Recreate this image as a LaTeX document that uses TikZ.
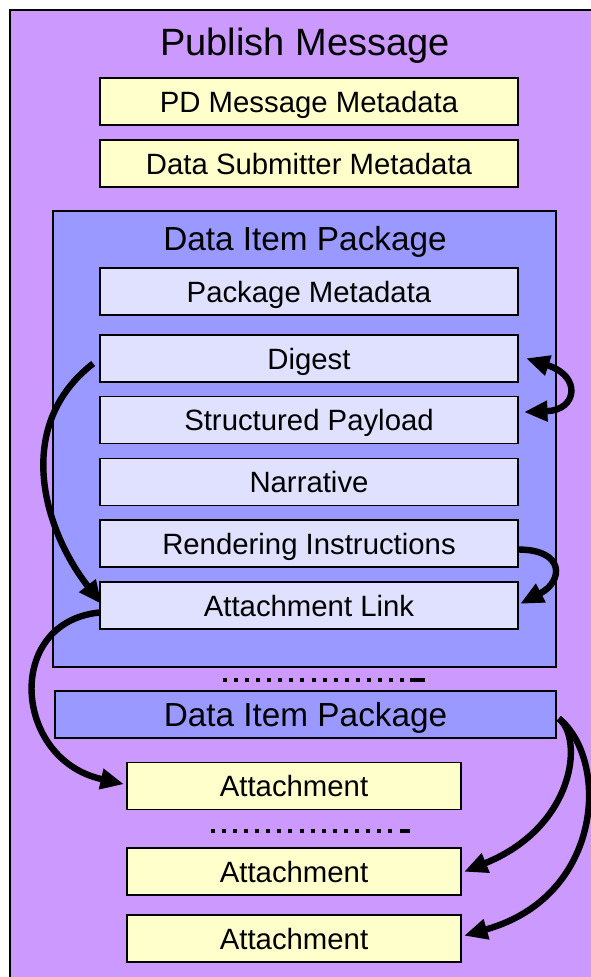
\documentclass[tikz,border=0pt]{standalone}
\usepackage{fontspec}
\setmainfont{Liberation Sans}
\usetikzlibrary{arrows.meta,calc}
\definecolor{msgpurple}{HTML}{CC99FF}
\definecolor{pkgblue}{HTML}{9999FF}
\definecolor{itemlav}{HTML}{E0E0FF}
\definecolor{metayellow}{HTML}{FFFFCC}
\tikzset{
  box/.style={draw=black, line width=1.2pt, minimum height=35.25pt, inner sep=0pt,
              text height=15.8pt, text depth=0pt,
              font=\fontsize{22}{26}\selectfont},
  metabox/.style={box, fill=metayellow, minimum width=313.5pt},
  itembox/.style={box, fill=itemlav, minimum width=313.5pt},
  attbox/.style={box, fill=metayellow, minimum width=250.5pt},
  pkgbox/.style={draw=black, line width=1.2pt, fill=pkgblue, inner sep=0pt},
  link/.style={line width=4.8pt},
  gap/.style={line width=3pt, dash pattern=on 3pt off 5.3pt},
  gapend/.style={line width=3.4pt}
}
\begin{document}
\begin{tikzpicture}[x=0.75pt, y=-0.75pt,
  >={Triangle[fill=black, length=17pt, width=16pt, line width=1pt]}]
\useasboundingbox (0,0) rectangle (591,977);
\clip (0,0) rectangle (591,977);

% outer message frame
\draw[fill=msgpurple, line width=1.5pt] (10,10) rectangle (660,1040);
\node[font=\fontsize{28.5}{32}\selectfont, text height=20.4pt, text depth=0pt]
  (title) at (305,42) {Publish Message};

% message metadata
\node[metabox] (pdmeta) at (309,101.5) {PD Message Metadata};
\node[metabox] (submeta) at (309,163.5) {Data Submitter Metadata};

% first data item package
\node[pkgbox, minimum width=377.25pt, minimum height=342pt] (pkg) at (304.5,439) {};
\node[font=\fontsize{25}{30}\selectfont, text height=17.9pt, text depth=0pt]
  (pkgtitle) at (305,239) {Data Item Package};
\node[itembox] (pkgmeta) at (309,291.5) {Package Metadata};
\node[itembox] (digest) at (309,358.5) {Digest};
\node[itembox] (payload) at (309,420) {Structured Payload};
\node[itembox] (narr) at (309,482) {Narrative};
\node[itembox] (render) at (309,543.5) {Rendering Instructions};
\node[itembox] (attlink) at (309,605.5) {Attachment Link};

% ellipsis between packages
\draw[gap] (223,680) -- (408,680);
\draw[gapend] (410,680) -- (425,680);

% second data item package
\node[pkgbox, minimum width=375.75pt, minimum height=35.25pt,
      text height=17.9pt, text depth=0pt,
      font=\fontsize{25}{30}\selectfont] (pkg2) at (305.5,714.5) {Data Item Package};

% attachments
\node[attbox] (att1) at (294,786) {Attachment};
\draw[gap] (211,831) -- (398,831);
\draw[gapend] (400,831) -- (410,831);
\node[attbox] (att2) at (294,871.5) {Attachment};
\node[attbox] (att3) at (294,938.5) {Attachment};

% references between items
\draw[link, <->] ($(digest.east)+(8,0)$) .. controls +(55,18) and +(52,-2) .. ($(payload.east)+(6,-8)$);
\draw[link, ->] ($(render.east)+(-1,6)$) .. controls +(48,0) and +(42,-22) .. ($(attlink.east)+(2,-2)$);
\draw[link, ->] ($(digest.west)+(-6,5)$) .. controls +(-80,62) and +(-58,-75) .. ($(attlink.west)+(2,-2)$);
\draw[link, ->] ($(attlink.west)+(0,7)$) .. controls +(-95,10) and +(-110,-25) .. ($(att1.west)+(-3,-2)$);
\draw[link, ->] ($(pkg2.east)+(2,4)$) .. controls +(25,20) and +(110,-45) .. ($(att2.east)+(3,0)$);
\draw[link, ->] ($(pkg2.east)+(2,4)$) .. controls +(50,40) and +(140,-40) .. ($(att3.east)+(3,-3)$);
\end{tikzpicture}
\end{document}
